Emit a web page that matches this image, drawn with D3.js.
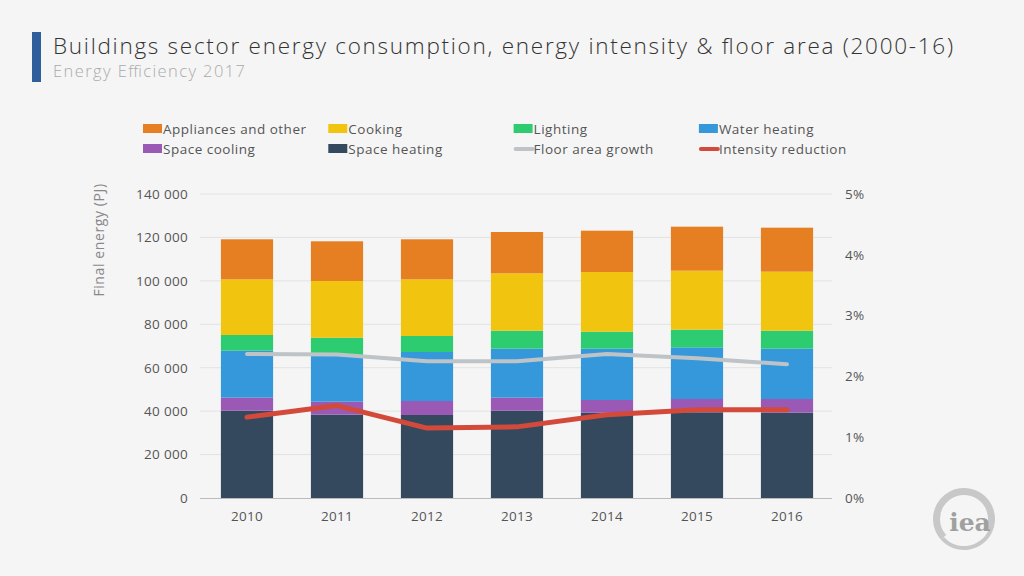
<!DOCTYPE html>
<html><head><meta charset="utf-8">
<script src="https://cdn.jsdelivr.net/npm/d3@7"></script>
<style>
html,body{margin:0;padding:0;background:#f5f5f5;}
svg{display:block;font-family:"Open Sans","Noto Sans",sans-serif;}
</style></head>
<body><svg id="c" width="1024" height="576"></svg>
<script>
const years = ["2010","2011","2012","2013","2014","2015","2016"];
const spaceHeating = [40200, 38370, 38220, 40200, 39290, 39470, 39290];
const spaceCooling = [6000, 5980, 6450, 6000, 5840, 6120, 6300];
const waterHeating = [21640, 21510, 22570, 22570, 23640, 23790, 23180];
const lighting = [7230, 7970, 7370, 8290, 7830, 8140, 8290];
const cooking = [25630, 26110, 26090, 26420, 27480, 27170, 27170];
const appliances = [18440, 18280, 18440, 19020, 19030, 20260, 20260];
const floorAreaGrowth = [2.37, 2.36, 2.25, 2.25, 2.37, 2.30, 2.20];
const intensityReduction = [1.33, 1.52, 1.15, 1.17, 1.37, 1.45, 1.45];
const leftTicks = [0, 20000, 40000, 60000, 80000, 100000, 120000, 140000];
const rightTicks = [0, 1, 2, 3, 4, 5];

const seriesDefs = [
  {key:"Space heating", values: spaceHeating, color:"#34495e"},
  {key:"Space cooling", values: spaceCooling, color:"#9b59b6"},
  {key:"Water heating", values: waterHeating, color:"#3498db"},
  {key:"Lighting", values: lighting, color:"#2ecc71"},
  {key:"Cooking", values: cooking, color:"#f1c40f"},
  {key:"Appliances and other", values: appliances, color:"#e67e22"}
];
const lineDefs = [
  {key:"Floor area growth", values: floorAreaGrowth, color:"#bdc3c7", width:4},
  {key:"Intensity reduction", values: intensityReduction, color:"#d44a3a", width:5}
];

const svg = d3.select("#c");
svg.append("rect").attr("width",1024).attr("height",576).attr("fill","#f5f5f5");

// Header
svg.append("rect").attr("x",32).attr("y",32).attr("width",9).attr("height",50).attr("fill","#2e5e9c");
svg.append("text").attr("x",53).attr("y",54).attr("font-size",22.5).attr("font-weight",300).attr("fill","#333")
  .attr("textLength",900).attr("lengthAdjust","spacing")
  .text("Buildings sector energy consumption, energy intensity & floor area (2000-16)");
svg.append("text").attr("x",53).attr("y",77).attr("font-size",16.5).attr("font-weight",300).attr("fill","#aaa")
  .attr("textLength",192).attr("lengthAdjust","spacing")
  .text("Energy Efficiency 2017");

// Scales
const x = d3.scaleBand().domain(years).range([202, 832]).paddingInner(0.42).paddingOuter(0.21);
const y = d3.scaleLinear().domain([0, 140000]).range([498, 194]);
const y2 = d3.scaleLinear().domain([0, 5]).range([498, 194]);

// Gridlines
svg.append("g").selectAll("line").data(leftTicks.slice(1)).join("line")
  .attr("x1",200).attr("x2",832).attr("y1",d=>y(d)).attr("y2",d=>y(d))
  .attr("stroke","#e2e2e2").attr("stroke-width",1);

// Stacked bars
const table = years.map((yr,i)=>{
  const o = {year: yr};
  seriesDefs.forEach(s=>o[s.key]=s.values[i]);
  return o;
});
const stack = d3.stack().keys(seriesDefs.map(s=>s.key));
const stacked = stack(table);
svg.append("g").selectAll("g").data(stacked).join("g")
  .attr("fill",(d,i)=>seriesDefs[i].color)
  .selectAll("rect").data(d=>d).join("rect")
  .attr("x",d=>x(d.data.year)).attr("width",x.bandwidth())
  .attr("y",d=>y(d[1])).attr("height",d=>y(d[0])-y(d[1]));

// baseline
svg.append("line").attr("x1",200).attr("x2",832).attr("y1",498.5).attr("y2",498.5)
  .attr("stroke","#bbb").attr("stroke-width",1);

// Lines
lineDefs.forEach(l=>{
  const gen = d3.line().x((d,i)=>x(years[i])+x.bandwidth()/2).y(d=>y2(d));
  svg.append("path").datum(l.values).attr("d",gen).attr("fill","none")
    .attr("stroke",l.color).attr("stroke-width",l.width)
    .attr("stroke-linejoin","round").attr("stroke-linecap","round");
});

const tickFont = (sel)=>sel.attr("font-size",13.5).attr("fill","#555").attr("letter-spacing","0.3px")
  .attr("font-family","'Open Sans',sans-serif");

// Left axis
const fmt = d=> d===0 ? "0" : d3.format(",")(d).replace(/,/g," ");
const la = svg.append("g").attr("transform","translate(188,0)")
  .call(d3.axisLeft(y).tickValues(leftTicks).tickFormat(fmt).tickSize(0).tickPadding(0));
la.select(".domain").remove();
tickFont(la.selectAll("text"));

// Right axis
const ra = svg.append("g").attr("transform","translate(845,0)")
  .call(d3.axisRight(y2).tickValues(rightTicks).tickFormat(d=>d+"%").tickSize(0).tickPadding(0));
ra.select(".domain").remove();
tickFont(ra.selectAll("text"));

// X axis
const xa = svg.append("g").attr("transform","translate(0,511)")
  .call(d3.axisBottom(x).tickSize(0).tickPadding(0));
xa.select(".domain").remove();
tickFont(xa.selectAll("text")).attr("dy","0.71em");

// Y title
svg.append("text").attr("transform","translate(104,240) rotate(-90)").attr("text-anchor","middle")
  .attr("font-size",14).attr("letter-spacing","0.6px").attr("fill","#888").text("Final energy (PJ)");

// Legend
const legendItems = [
  {key:"Appliances and other", color:"#e67e22", type:"rect"},
  {key:"Cooking", color:"#f1c40f", type:"rect"},
  {key:"Lighting", color:"#2ecc71", type:"rect"},
  {key:"Water heating", color:"#3498db", type:"rect"},
  {key:"Space cooling", color:"#9b59b6", type:"rect"},
  {key:"Space heating", color:"#34495e", type:"rect"},
  {key:"Floor area growth", color:"#bdc3c7", type:"line"},
  {key:"Intensity reduction", color:"#d44a3a", type:"line"}
];
const lg = svg.append("g").selectAll("g").data(legendItems).join("g")
  .attr("transform",(d,i)=>`translate(${143 + (i%4)*185.3},${129 + Math.floor(i/4)*20})`);
lg.filter(d=>d.type==="rect").append("rect").attr("x",0).attr("y",-5).attr("width",19).attr("height",9).attr("fill",d=>d.color);
lg.filter(d=>d.type==="line").append("line").attr("x1",2).attr("x2",19).attr("y1",0).attr("y2",0)
  .attr("stroke",d=>d.color).attr("stroke-width",4).attr("stroke-linecap","round");
lg.append("text").attr("x",20).attr("y",0).attr("dy","0.35em").attr("font-size",13.5)
  .attr("letter-spacing","0.5px").attr("fill","#555").text(d=>d.key);

// IEA logo
const logo = svg.append("g").attr("transform","translate(964,519)");
logo.append("path").attr("d", d3.arc().innerRadius(24).outerRadius(31).startAngle(-2.3).endAngle(2.0)()).attr("fill","#c8c8c8");
logo.append("path").attr("d", d3.arc().innerRadius(27).outerRadius(31).startAngle(2.0).endAngle(3.98)()).attr("fill","#c8c8c8");
logo.append("text").attr("x",6).attr("y",12).attr("text-anchor","middle").attr("font-size",25)
  .attr("font-weight","bold").attr("fill","#a0a0a0").attr("font-family","'DejaVu Serif',serif").text("iea");
</script></body></html>
